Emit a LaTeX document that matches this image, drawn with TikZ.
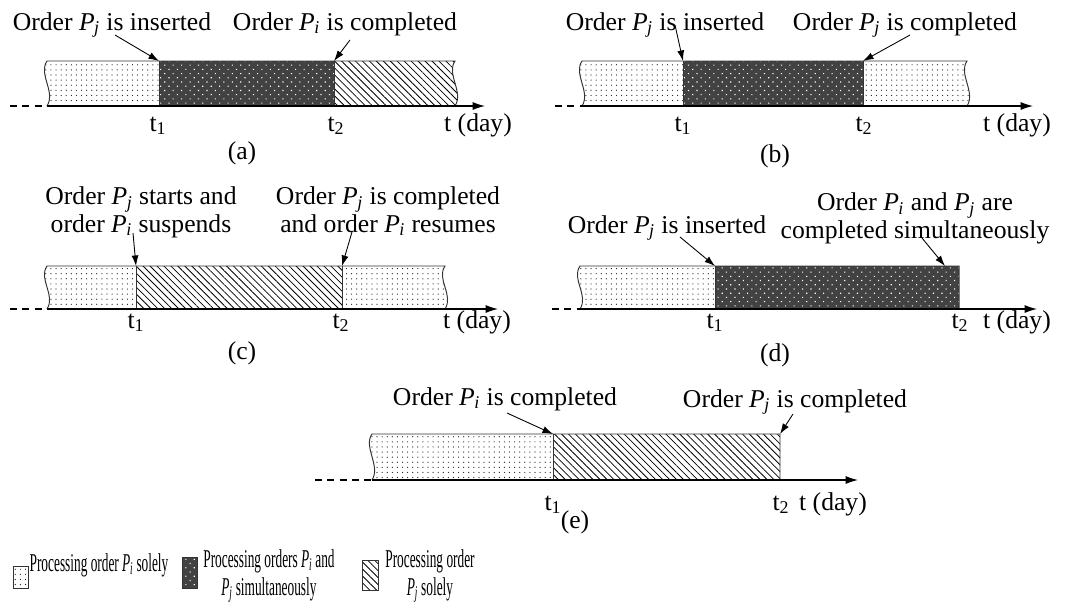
\documentclass[tikz,border=0pt]{standalone}
\usepackage{fontspec}
\usepackage{graphicx}
\setmainfont{Liberation Serif}
\usetikzlibrary{arrows.meta,patterns,patterns.meta}

% italic order name with italic subscript, e.g. P_j
\newcommand\Ord[1]{\textit{P}\kern-0.02em\textsubscript{\textit{#1}}}
% time mark t_k
\newcommand\tmark[1]{t\textsubscript{#1}}
% horizontally narrowed legend text
\newcommand\narrow[1]{\scalebox{0.52}[1]{#1}}

\tikzset{
  x=0.02cm, y=-0.02cm,
  lbl/.style={font=\fontsize{14.6}{14.2}\selectfont, inner sep=0pt, align=center},
  leg/.style={font=\fontsize{14.6}{15.9}\selectfont, inner sep=0pt, align=center},
  solo/.style={pattern={Dots[distance=2.9pt,radius=0.35pt]}, pattern color=black!90},
  both/.style={preaction={fill=black!74}, pattern={Dots[distance=3.4pt,angle=45,radius=0.45pt]}, pattern color=white},
  onlyj/.style={pattern={Lines[angle=-45,distance=2.8pt,line width=0.45pt]}, pattern color=black},
  edge/.style={draw=black!80, line width=0.55pt},
  axis/.style={line width=0.6pt, -{Latex[length=7pt,width=4.5pt]}},
  lead/.style={line width=0.5pt, -{Latex[length=6pt,width=4pt]}},
  tail/.style={line width=0.6pt, dash pattern=on 4pt off 3pt},
}

\begin{document}
\begin{tikzpicture}
\useasboundingbox (0,0) rectangle (1084,610);

%% ---------------- (a) ----------------
\path[solo] (47,106) .. controls +(9,-14) and +(-9,13) .. (47,61) -- (159,61) -- (159,106) -- cycle;
\path[both] (159,61) rectangle (334,106);
\path[onlyj] (334,61) -- (455,61) .. controls +(-9,13) and +(9,-14) .. (455,106) -- (334,106) -- cycle;
\draw[edge] (47,106) .. controls +(9,-14) and +(-9,13) .. (47,61) -- (455,61) .. controls +(-9,13) and +(9,-14) .. (455,106);
\draw[edge] (159,61) -- (159,106) (334,61) -- (334,106);
\coordinate (a-o) at (10,106);
\coordinate (a-L) at (47,106);
\coordinate (a-end) at (485,106);
\draw[tail] (a-o) -- (a-L);
\draw[axis] (a-L) -- (a-end);
\coordinate (a-p1) at (159,61);
\coordinate (a-p2) at (334,61);
\coordinate (a-s1) at (115,35);
\coordinate (a-s2) at (350,40);
\draw[lead] (a-s1) -- (a-p1);
\draw[lead] (a-s2) -- (a-p2);
\node[lbl, anchor=base] (a-n1) at (112,30) {Order \Ord{j} is inserted};
\node[lbl, anchor=base] (a-n2) at (345,30) {Order \Ord{i} is completed};
\node[lbl, anchor=base] (a-t1) at (158,131) {\tmark{1}};
\node[lbl, anchor=base] (a-t2) at (336,131) {\tmark{2}};
\node[lbl, anchor=base] (a-t) at (478,131) {t (day)};
\node[lbl] (a-cap) at (242,153) {(a)};

%% ---------------- (b) ----------------
\path[solo] (582,106) .. controls +(9,-14) and +(-9,13) .. (582,61) -- (683,61) -- (683,106) -- cycle;
\path[both] (683,61) rectangle (863,106);
\path[solo] (863,61) -- (967,61) .. controls +(-9,13) and +(9,-14) .. (967,106) -- (863,106) -- cycle;
\draw[edge] (582,106) .. controls +(9,-14) and +(-9,13) .. (582,61) -- (967,61) .. controls +(-9,13) and +(9,-14) .. (967,106);
\draw[edge] (683,61) -- (683,106) (863,61) -- (863,106);
\coordinate (b-o) at (555,106);
\coordinate (b-L) at (582,106);
\coordinate (b-end) at (1033,106);
\draw[tail] (b-o) -- (b-L);
\draw[axis] (b-L) -- (b-end);
\coordinate (b-p1) at (683,61);
\coordinate (b-p2) at (863,61);
\coordinate (b-s1) at (675,25);
\coordinate (b-s2) at (910,35);
\draw[lead] (b-s1) -- (b-p1);
\draw[lead] (b-s2) -- (b-p2);
\node[lbl, anchor=base] (b-n1) at (665,30) {Order \Ord{j} is inserted};
\node[lbl, anchor=base] (b-n2) at (905,30) {Order \Ord{j} is completed};
\node[lbl, anchor=base] (b-t1) at (683,131) {\tmark{1}};
\node[lbl, anchor=base] (b-t2) at (864,131) {\tmark{2}};
\node[lbl, anchor=base] (b-t) at (1017,131) {t (day)};
\node[lbl] (b-cap) at (775,156) {(b)};

%% ---------------- (c) ----------------
\path[solo] (47,309) .. controls +(9,-14) and +(-9,13) .. (47,266) -- (136,266) -- (136,309) -- cycle;
\path[onlyj] (136,266) rectangle (342,309);
\path[solo] (342,266) -- (445,266) .. controls +(-9,13) and +(9,-14) .. (445,309) -- (342,309) -- cycle;
\draw[edge] (47,309) .. controls +(9,-14) and +(-9,13) .. (47,266) -- (445,266) .. controls +(-9,13) and +(9,-14) .. (445,309);
\draw[edge] (136,266) -- (136,309) (342,266) -- (342,309);
\coordinate (c-o) at (10,309);
\coordinate (c-L) at (47,309);
\coordinate (c-end) at (498,309);
\draw[tail] (c-o) -- (c-L);
\draw[axis] (c-L) -- (c-end);
\coordinate (c-p1) at (136,266);
\coordinate (c-p2) at (342,266);
\coordinate (c-s1) at (133,233);
\coordinate (c-s2) at (352,232);
\draw[lead] (c-s1) -- (c-p1);
\draw[lead] (c-s2) -- (c-p2);
\node[lbl, anchor=base] (c-n1) at (141,232) {Order \Ord{j} starts and\\order \Ord{i} suspends};
\node[lbl, anchor=base] (c-n2) at (388,232) {Order \Ord{j} is completed\\and order \Ord{i} resumes};
\node[lbl, anchor=base] (c-t1) at (136,328) {\tmark{1}};
\node[lbl, anchor=base] (c-t2) at (341,328) {\tmark{2}};
\node[lbl, anchor=base] (c-t) at (477,328) {t (day)};
\node[lbl] (c-cap) at (242,353) {(c)};

%% ---------------- (d) ----------------
\path[solo] (580,309) .. controls +(9,-14) and +(-9,13) .. (580,266) -- (715,266) -- (715,309) -- cycle;
\path[both] (715,266) rectangle (959,309);
\draw[edge] (580,309) .. controls +(9,-14) and +(-9,13) .. (580,266) -- (959,266) -- (959,309);
\draw[edge] (715,266) -- (715,309);
\coordinate (d-o) at (552,309);
\coordinate (d-L) at (580,309);
\coordinate (d-end) at (1037,309);
\draw[tail] (d-o) -- (d-L);
\draw[axis] (d-L) -- (d-end);
\coordinate (d-p1) at (715,266);
\coordinate (d-p2) at (945,266);
\coordinate (d-s1) at (680,237);
\coordinate (d-s2) at (922,238);
\draw[lead] (d-s1) -- (d-p1);
\draw[lead] (d-s2) -- (d-p2);
\node[lbl, anchor=base] (d-n1) at (667,233) {Order \Ord{j} is inserted};
\node[lbl, anchor=base] (d-n2) at (915,238) {Order \Ord{i} and \Ord{j} are\\completed simultaneously};
\node[lbl, anchor=base] (d-t1) at (715,328) {\tmark{1}};
\node[lbl, anchor=base] (d-t2) at (960,328) {\tmark{2}};
\node[lbl, anchor=base] (d-t) at (1017,328) {t (day)};
\node[lbl] (d-cap) at (775,355) {(d)};

%% ---------------- (e) ----------------
\path[solo] (372,480) .. controls +(9,-14) and +(-9,13) .. (372,434) -- (553,434) -- (553,480) -- cycle;
\path[onlyj] (553,434) rectangle (780,480);
\draw[edge] (372,480) .. controls +(9,-14) and +(-9,13) .. (372,434) -- (780,434) -- (780,480);
\draw[edge] (553,434) -- (553,480);
\coordinate (e-o) at (315,480);
\coordinate (e-L) at (372,480);
\coordinate (e-end) at (858,480);
\draw[tail] (e-o) -- (e-L);
\draw[axis] (e-L) -- (e-end);
\coordinate (e-p1) at (553,434);
\coordinate (e-p2) at (780,434);
\coordinate (e-s1) at (507,413);
\coordinate (e-s2) at (793,414);
\draw[lead] (e-s1) -- (e-p1);
\draw[lead] (e-s2) -- (e-p2);
\node[lbl, anchor=base] (e-n1) at (505,405) {Order \Ord{i} is completed};
\node[lbl, anchor=base] (e-n2) at (795,407) {Order \Ord{j} is completed};
\node[lbl, anchor=base] (e-t1) at (553,510) {\tmark{1}};
\node[lbl, anchor=base] (e-t2) at (781,510) {\tmark{2}};
\node[lbl, anchor=base] (e-t) at (833,510) {t (day)};
\node[lbl] (e-cap) at (575,522) {(e)};

%% ---------------- legend ----------------
\path[solo, edge] (13,566) rectangle (28,588);
\path[both, edge] (182,557) rectangle (197,588);
\path[onlyj, edge] (362,560) rectangle (378,590);
\node[leg, anchor=base] (k1) at (99,571) {\narrow{Processing order \Ord{i} solely}};
\node[leg, anchor=base] (k2) at (269,595) {\narrow{Processing orders \Ord{i} and}\\\narrow{\Ord{j} simultaneously}};
\node[leg, anchor=base] (k3) at (430,595) {\narrow{Processing order}\\\narrow{\Ord{j} solely}};
\end{tikzpicture}
\end{document}
